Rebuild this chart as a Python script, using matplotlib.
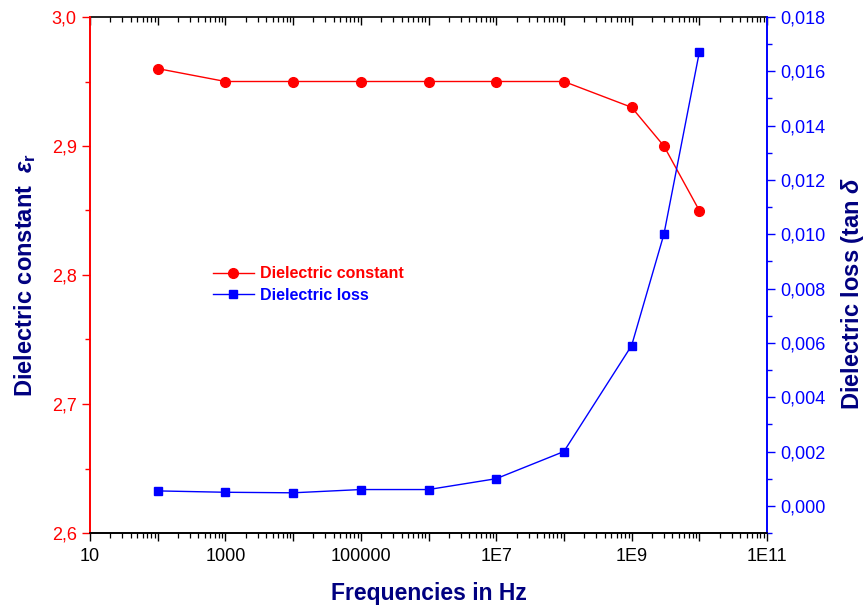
import matplotlib
matplotlib.use('Agg')
import matplotlib.pyplot as plt
from matplotlib.ticker import LogLocator, MultipleLocator, FuncFormatter, NullFormatter

plt.rcParams['font.family'] = ['Liberation Sans', 'DejaVu Sans']
plt.rcParams['mathtext.fontset'] = 'custom'
plt.rcParams['mathtext.rm'] = 'Liberation Sans:bold'
plt.rcParams['mathtext.it'] = 'Liberation Sans:italic:bold'
plt.rcParams['mathtext.bf'] = 'Liberation Sans:bold'

# data
freq = [1e2, 1e3, 1e4, 1e5, 1e6, 1e7, 1e8, 1e9, 3e9, 1e10]
eps_r = [2.96, 2.95, 2.95, 2.95, 2.95, 2.95, 2.95, 2.93, 2.90, 2.85]
tan_d = [0.00055, 0.0005, 0.00048, 0.0006, 0.0006, 0.001, 0.002, 0.0059, 0.0100, 0.0167]

x_ticks = [1e1, 1e3, 1e5, 1e7, 1e9, 1e11]
x_labels = ['10', '1000', '100000', '1E7', '1E9', '1E11']

red = '#ff0000'
blue = '#0000ff'
navy = '#000080'

fig = plt.figure(figsize=(8.65, 6.06), dpi=100)
ax = fig.add_axes([90 / 865, 1 - 533 / 606, 677 / 865, 516 / 606])
ax2 = ax.twinx()

l1, = ax.plot(freq, eps_r, color=red, lw=1.0, marker='o', ms=7, label='Dielectric constant')
l2, = ax2.plot(freq, tan_d, color=blue, lw=1.0, marker='s', ms=6, label='Dielectric loss')

ax.set_xscale('log')
ax.set_xlim(10, 1e11)
ax.set_ylim(2.6, 3.0)
ax2.set_ylim(-0.001, 0.018)

# x axis: major every decade, labels every second decade
ax.xaxis.set_major_locator(LogLocator(base=10, numticks=20))
ax.xaxis.set_minor_locator(LogLocator(base=10, subs=range(2, 10), numticks=100))
lab = dict(zip([round(v) for v in x_ticks], x_labels))
ax.xaxis.set_major_formatter(FuncFormatter(lambda v, p: lab.get(round(v), '')))
ax.xaxis.set_minor_formatter(NullFormatter())
ax.tick_params(axis='x', which='major', direction='out', length=6, width=1.0,
               labelsize=13, pad=5, top=False)
ax.tick_params(axis='x', which='minor', direction='out', length=3.5, width=0.9, top=False)

top = ax.secondary_xaxis('top')
top.xaxis.set_major_locator(LogLocator(base=10, numticks=20))
top.xaxis.set_minor_locator(LogLocator(base=10, subs=range(2, 10), numticks=100))
top.xaxis.set_major_formatter(NullFormatter())
top.xaxis.set_minor_formatter(NullFormatter())
top.tick_params(which='major', direction='in', length=6, width=1.0)
top.tick_params(which='minor', direction='in', length=3.5, width=0.9)
top.spines['top'].set_linewidth(1.2)

# left axis
ax.yaxis.set_major_locator(MultipleLocator(0.1))
ax.yaxis.set_minor_locator(MultipleLocator(0.05))
ax.yaxis.set_major_formatter(FuncFormatter(lambda v, p: f'{v:.1f}'.replace('.', ',')))
ax.tick_params(axis='y', which='major', direction='out', length=6, width=1.0,
               colors=red, labelsize=13)
ax.tick_params(axis='y', which='minor', direction='out', length=3.5, width=1.0, colors=red)

# right axis
ax2.yaxis.set_major_locator(MultipleLocator(0.002))
ax2.yaxis.set_minor_locator(MultipleLocator(0.001))
ax2.yaxis.set_major_formatter(FuncFormatter(lambda v, p: f'{v:.3f}'.replace('.', ',').replace('-', '')))
ax2.tick_params(axis='y', which='major', direction='out', length=6, width=1.0,
                colors=blue, labelsize=13)
ax2.tick_params(axis='y', which='minor', direction='out', length=3.5, width=1.0, colors=blue)

for a in (ax, ax2):
    a.spines['left'].set_color(red)
    a.spines['right'].set_color(blue)
    a.spines['top'].set_visible(False)
    for s in a.spines.values():
        s.set_linewidth(1.2)

ax.set_xlabel('Frequencies in Hz', fontsize=16.5, fontweight='bold', color=navy, labelpad=12)
ax.set_ylabel('Dielectric constant  $ε_\\mathrm{r}$', fontsize=17, fontweight='bold',
              color=navy, labelpad=10)
fig.text(853 / 865, 1 - 293 / 606, 'Dielectric loss (tan $δ$', rotation=90,
         ha='center', va='center', fontsize=17, fontweight='bold', color=navy)

leg = ax.legend(handles=[l1, l2], loc='upper left', bbox_to_anchor=(0.16, 0.545),
                frameon=False, labelcolor='linecolor', handlelength=2.6,
                handletextpad=0.35, labelspacing=0.4,
                prop={'weight': 'bold', 'size': 11.5})

fig.savefig('out.png', dpi=100)
